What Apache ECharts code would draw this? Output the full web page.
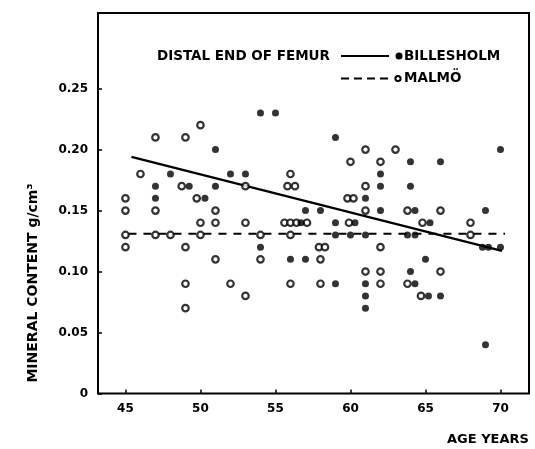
<!DOCTYPE html>
<html>
<head>
<meta charset="utf-8">
<script src="https://cdn.jsdelivr.net/npm/echarts@6/dist/echarts.min.js"></script>
<style>
  html, body { margin: 0; padding: 0; background: #fff; }
  #chart { width: 535px; height: 449px; }
</style>
</head>
<body>
<div id="chart"></div>
<script>
// Billesholm (filled dots)
const billesholmAge = [
  47, 47, 48, 49.25, 50.3, 51, 51, 52, 53, 54, 54, 55, 56, 56.7, 57, 57, 58,
  59, 59, 59, 59, 60.3, 60, 61, 61, 61, 61, 61, 62, 62, 62,
  64, 64, 64.3, 63.8, 64.3, 64, 64.3, 65.3, 65, 65.2, 66, 66,
  69, 68.8, 69.2, 69, 70, 70
];
const billesholmMineral = [
  0.17, 0.16, 0.18, 0.17, 0.16, 0.20, 0.17, 0.18, 0.18, 0.23, 0.12, 0.23, 0.11, 0.14, 0.15, 0.11, 0.15,
  0.21, 0.14, 0.13, 0.09, 0.14, 0.13, 0.16, 0.13, 0.09, 0.08, 0.07, 0.18, 0.17, 0.15,
  0.19, 0.17, 0.15, 0.13, 0.13, 0.10, 0.09, 0.14, 0.11, 0.08, 0.19, 0.08,
  0.15, 0.12, 0.12, 0.04, 0.20, 0.12
];

// Malmö (open dots)
const malmoAge = [
  45, 45, 45, 45, 46, 47, 47, 47, 48, 49, 48.75, 49, 49, 49,
  50, 49.75, 50, 50, 51, 51, 51, 52, 53, 53, 53, 54, 54,
  56, 55.8, 56.3, 55.6, 56, 56.4, 56, 56, 57.1, 57.9, 58.3, 58, 58,
  60, 59.8, 60.2, 59.9, 61, 61, 61, 61, 62, 62, 62, 62, 63,
  63.8, 63.8, 64.8, 64.7, 66, 66, 68, 68
];
const malmoMineral = [
  0.16, 0.15, 0.13, 0.12, 0.18, 0.21, 0.15, 0.13, 0.13, 0.21, 0.17, 0.12, 0.09, 0.07,
  0.22, 0.16, 0.14, 0.13, 0.15, 0.14, 0.11, 0.09, 0.17, 0.14, 0.08, 0.13, 0.11,
  0.18, 0.17, 0.17, 0.14, 0.14, 0.14, 0.13, 0.09, 0.14, 0.12, 0.12, 0.11, 0.09,
  0.19, 0.16, 0.16, 0.14, 0.20, 0.17, 0.15, 0.10, 0.19, 0.12, 0.10, 0.09, 0.20,
  0.15, 0.09, 0.14, 0.08, 0.15, 0.10, 0.14, 0.13
];

// regression lines (end points)
const billesholmFitAge = [45.4, 70.1];
const billesholmFitMineral = [0.194, 0.117];
const malmoFitAge = [45.2, 70.3];
const malmoFitMineral = [0.131, 0.131];

const xTicks = [45, 50, 55, 60, 65, 70];
const yTicks = [0, 0.05, 0.10, 0.15, 0.20, 0.25];

const FONT = 'DejaVu Sans';

function pairs(xs, ys) {
  return xs.map((x, i) => [x, ys[i]]);
}

const chart = echarts.init(document.getElementById('chart'), null, { renderer: 'canvas' });

const option = {
  animation: false,
  backgroundColor: '#fff',
  grid: {
    left: 98, top: 13, right: 6, bottom: 55.5,
    show: true,
    borderColor: '#000',
    borderWidth: 2,
    backgroundColor: 'transparent'
  },
  xAxis: {
    type: 'value',
    min: 43.17,
    max: 71.9,
    splitLine: { show: false },
    axisLine: { show: false },
    axisTick: {
      show: true, inside: true, length: 4,
      customValues: xTicks,
      lineStyle: { color: '#000', width: 1.5 }
    },
    axisLabel: {
      customValues: xTicks,
      margin: 9,
      color: '#000',
      fontFamily: FONT,
      fontWeight: 'bold',
      fontSize: 12
    }
  },
  yAxis: {
    type: 'value',
    min: 0,
    max: 0.312,
    splitLine: { show: false },
    axisLine: { show: false },
    axisTick: {
      show: true, inside: true, length: 4,
      customValues: yTicks,
      lineStyle: { color: '#000', width: 1.5 }
    },
    axisLabel: {
      customValues: yTicks,
      margin: 10,
      color: '#000',
      fontFamily: FONT,
      fontWeight: 'bold',
      fontSize: 12,
      formatter: v => (v === 0 ? '0' : v.toFixed(2))
    }
  },
  series: [
    {
      name: 'MALMÖ fit',
      type: 'line',
      data: pairs(malmoFitAge, malmoFitMineral),
      showSymbol: false,
      lineStyle: { color: '#000', width: 1.8, type: [8, 7] },
      z: 2
    },
    {
      name: 'BILLESHOLM fit',
      type: 'line',
      data: pairs(billesholmFitAge, billesholmFitMineral),
      showSymbol: false,
      lineStyle: { color: '#000', width: 2.2 },
      z: 2
    },
    {
      name: 'MALMÖ',
      type: 'scatter',
      data: pairs(malmoAge, malmoMineral),
      symbol: 'circle',
      symbolSize: 6.5,
      itemStyle: { color: '#fff', borderColor: '#000', borderWidth: 2.2 },
      z: 3
    },
    {
      name: 'BILLESHOLM',
      type: 'scatter',
      data: pairs(billesholmAge, billesholmMineral),
      symbol: 'circle',
      symbolSize: 7,
      itemStyle: { color: '#000' },
      z: 4
    }
  ],
  graphic: [
    // legend block
    {
      type: 'text', left: 157, top: 49,
      style: { text: 'DISTAL END OF FEMUR', font: 'bold 13.5px "DejaVu Sans"', fill: '#000' }
    },
    {
      type: 'line', shape: { x1: 341, y1: 56, x2: 389, y2: 56 },
      style: { stroke: '#000', lineWidth: 2 }
    },
    { type: 'circle', shape: { cx: 399, cy: 56, r: 3.5 }, style: { fill: '#000' } },
    {
      type: 'text', left: 404, top: 49,
      style: { text: 'BILLESHOLM', font: 'bold 13.5px "DejaVu Sans"', fill: '#000' }
    },
    {
      type: 'line', shape: { x1: 341, y1: 78.5, x2: 389, y2: 78.5 },
      style: { stroke: '#000', lineWidth: 1.8, lineDash: [8, 5] }
    },
    { type: 'circle', shape: { cx: 398, cy: 78.5, r: 2.6 }, style: { fill: '#fff', stroke: '#000', lineWidth: 2 } },
    {
      type: 'text', left: 404, top: 71.5,
      style: { text: 'MALMÖ', font: 'bold 13.5px "DejaVu Sans"', fill: '#000' }
    },
    // axis titles
    {
      type: 'text', left: 447, top: 433,
      style: { text: 'AGE YEARS', font: 'bold 13px "DejaVu Sans"', fill: '#000' }
    },
    {
      type: 'text', x: 33, y: 283, rotation: Math.PI / 2,
      style: {
        text: 'MINERAL CONTENT g/cm³', font: 'bold 14px "DejaVu Sans"', fill: '#000',
        align: 'center', verticalAlign: 'middle'
      }
    }
  ]
};

chart.setOption(option);
</script>
</body>
</html>
